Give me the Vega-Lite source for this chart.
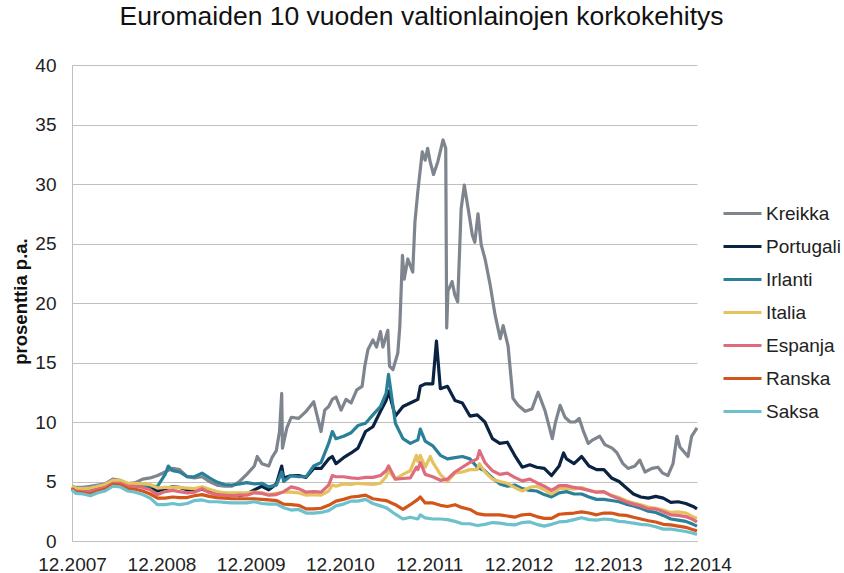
{
  "$schema": "https://vega.github.io/schema/vega-lite/v6.json",
  "width": 625,
  "height": 476,
  "autosize": {"type": "none"},
  "padding": {"left": 72, "top": 65, "right": 147, "bottom": 32},
  "background": "white",
  "config": {"view": {"stroke": null}, "font": "Liberation Sans"},
  "title": {"text": "Euromaiden 10 vuoden valtionlainojen korkokehitys", "font": "Liberation Sans", "fontSize": 26.5, "fontWeight": "normal", "color": "#111111", "anchor": "middle", "frame": "group", "dx": 37, "offset": 26},
  "data": {"values": [
    {"d":"2007-12-31","Kreikka":4.6,"Portugali":4.5,"Irlanti":4.4,"Italia":4.6,"Espanja":4.4,"Ranska":4.4,"Saksa":4.3},
    {"d":"2008-01-15","Kreikka":4.5,"Portugali":4.35,"Irlanti":4.25,"Italia":4.45,"Espanja":4.2,"Ranska":4.1,"Saksa":4.0},
    {"d":"2008-02-15","Kreikka":4.5,"Portugali":4.3,"Irlanti":4.3,"Italia":4.4,"Espanja":4.15,"Ranska":4.05,"Saksa":3.95},
    {"d":"2008-03-15","Kreikka":4.6,"Portugali":4.4,"Irlanti":4.4,"Italia":4.45,"Espanja":4.15,"Ranska":3.95,"Saksa":3.8},
    {"d":"2008-04-15","Kreikka":4.7,"Portugali":4.55,"Irlanti":4.55,"Italia":4.6,"Espanja":4.35,"Ranska":4.2,"Saksa":4.05},
    {"d":"2008-05-15","Kreikka":4.8,"Portugali":4.65,"Irlanti":4.65,"Italia":4.75,"Espanja":4.5,"Ranska":4.35,"Saksa":4.2},
    {"d":"2008-06-15","Kreikka":5.2,"Portugali":5.0,"Irlanti":4.95,"Italia":5.1,"Espanja":4.85,"Ranska":4.75,"Saksa":4.6},
    {"d":"2008-07-15","Kreikka":5.1,"Portugali":4.95,"Irlanti":4.95,"Italia":5.1,"Espanja":4.85,"Ranska":4.7,"Saksa":4.55},
    {"d":"2008-08-15","Kreikka":4.8,"Portugali":4.7,"Irlanti":4.7,"Italia":4.85,"Espanja":4.6,"Ranska":4.4,"Saksa":4.2},
    {"d":"2008-09-15","Kreikka":4.9,"Portugali":4.65,"Irlanti":4.75,"Italia":4.85,"Espanja":4.6,"Ranska":4.35,"Saksa":4.1},
    {"d":"2008-10-15","Kreikka":5.2,"Portugali":4.6,"Irlanti":4.7,"Italia":4.8,"Espanja":4.5,"Ranska":4.2,"Saksa":3.9},
    {"d":"2008-11-15","Kreikka":5.3,"Portugali":4.5,"Irlanti":4.6,"Italia":4.75,"Espanja":4.3,"Ranska":3.95,"Saksa":3.6},
    {"d":"2008-12-15","Kreikka":5.5,"Portugali":4.2,"Irlanti":4.6,"Italia":4.45,"Espanja":3.9,"Ranska":3.6,"Saksa":3.05},
    {"d":"2009-01-15","Kreikka":5.8,"Portugali":4.4,"Irlanti":5.6,"Italia":4.5,"Espanja":4.15,"Ranska":3.6,"Saksa":3.05},
    {"d":"2009-01-28","Irlanti":6.3},
    {"d":"2009-02-15","Kreikka":6.1,"Portugali":4.55,"Irlanti":5.9,"Italia":4.5,"Espanja":4.25,"Ranska":3.7,"Saksa":3.15},
    {"d":"2009-03-15","Kreikka":6.0,"Portugali":4.5,"Irlanti":5.8,"Italia":4.5,"Espanja":4.15,"Ranska":3.65,"Saksa":3.05},
    {"d":"2009-04-15","Kreikka":5.4,"Portugali":4.3,"Irlanti":5.4,"Italia":4.45,"Espanja":4.05,"Ranska":3.65,"Saksa":3.15},
    {"d":"2009-05-15","Kreikka":5.3,"Portugali":4.2,"Irlanti":5.4,"Italia":4.4,"Espanja":4.1,"Ranska":3.8,"Saksa":3.4},
    {"d":"2009-06-15","Kreikka":5.4,"Portugali":4.35,"Irlanti":5.7,"Italia":4.55,"Espanja":4.4,"Ranska":3.9,"Saksa":3.45},
    {"d":"2009-07-15","Kreikka":5.0,"Portugali":4.15,"Irlanti":5.3,"Italia":4.35,"Espanja":4.05,"Ranska":3.75,"Saksa":3.3},
    {"d":"2009-08-15","Kreikka":4.7,"Portugali":4.0,"Irlanti":4.95,"Italia":4.15,"Espanja":3.9,"Ranska":3.65,"Saksa":3.3},
    {"d":"2009-09-15","Kreikka":4.6,"Portugali":4.0,"Irlanti":4.75,"Italia":4.05,"Espanja":3.85,"Ranska":3.6,"Saksa":3.25},
    {"d":"2009-10-15","Kreikka":4.6,"Portugali":3.9,"Irlanti":4.7,"Italia":4.05,"Espanja":3.8,"Ranska":3.55,"Saksa":3.2},
    {"d":"2009-11-15","Kreikka":5.0,"Portugali":3.8,"Irlanti":4.8,"Italia":4.05,"Espanja":3.85,"Ranska":3.55,"Saksa":3.2},
    {"d":"2009-12-15","Kreikka":5.6,"Portugali":3.95,"Irlanti":4.9,"Italia":4.05,"Espanja":3.85,"Ranska":3.55,"Saksa":3.2},
    {"d":"2010-01-15","Portugali":4.3,"Irlanti":4.8,"Italia":4.1,"Espanja":4.05,"Ranska":3.55,"Saksa":3.3},
    {"d":"2010-02-15","Portugali":4.6,"Irlanti":4.85,"Italia":4.05,"Espanja":4.0,"Ranska":3.5,"Saksa":3.15},
    {"d":"2010-03-15","Portugali":4.3,"Irlanti":4.55,"Italia":3.9,"Espanja":3.85,"Ranska":3.45,"Saksa":3.1},
    {"d":"2010-04-15","Portugali":4.8,"Irlanti":4.7,"Italia":4.0,"Espanja":3.9,"Ranska":3.4,"Saksa":3.1},
    {"d":"2010-05-07","Portugali":6.3,"Irlanti":5.8},
    {"d":"2010-05-15","Portugali":5.3,"Irlanti":5.0,"Italia":4.1,"Espanja":4.15,"Ranska":3.1,"Saksa":2.8},
    {"d":"2010-06-15","Portugali":5.5,"Irlanti":5.5,"Italia":4.1,"Espanja":4.55,"Ranska":3.05,"Saksa":2.6},
    {"d":"2010-07-15","Portugali":5.5,"Irlanti":5.4,"Italia":4.05,"Espanja":4.4,"Ranska":3.0,"Saksa":2.65},
    {"d":"2010-08-15","Portugali":5.35,"Irlanti":5.4,"Italia":3.85,"Espanja":4.1,"Ranska":2.7,"Saksa":2.35},
    {"d":"2010-09-15","Portugali":6.1,"Irlanti":6.3,"Italia":3.9,"Espanja":4.15,"Ranska":2.7,"Saksa":2.35},
    {"d":"2010-10-15","Portugali":6.1,"Irlanti":6.6,"Italia":3.85,"Espanja":4.1,"Ranska":2.75,"Saksa":2.4},
    {"d":"2010-11-15","Portugali":6.9,"Irlanti":8.2,"Italia":4.2,"Espanja":4.7,"Ranska":3.0,"Saksa":2.55},
    {"d":"2010-11-30","Portugali":7.1,"Irlanti":9.2,"Italia":4.7,"Espanja":5.5},
    {"d":"2010-12-15","Portugali":6.5,"Irlanti":8.6,"Italia":4.6,"Espanja":5.4,"Ranska":3.35,"Saksa":2.95},
    {"d":"2011-01-15","Portugali":7.0,"Irlanti":8.8,"Italia":4.8,"Espanja":5.4,"Ranska":3.5,"Saksa":3.1},
    {"d":"2011-02-15","Portugali":7.4,"Irlanti":9.1,"Italia":4.75,"Espanja":5.3,"Ranska":3.7,"Saksa":3.35},
    {"d":"2011-03-15","Portugali":7.8,"Irlanti":9.7,"Italia":4.85,"Espanja":5.25,"Ranska":3.75,"Saksa":3.35},
    {"d":"2011-04-15","Portugali":9.2,"Irlanti":9.9,"Italia":4.8,"Espanja":5.35,"Ranska":3.85,"Saksa":3.5},
    {"d":"2011-05-15","Portugali":9.6,"Irlanti":10.6,"Italia":4.75,"Espanja":5.35,"Ranska":3.55,"Saksa":3.15},
    {"d":"2011-06-15","Portugali":10.9,"Irlanti":11.3,"Italia":4.85,"Espanja":5.5,"Ranska":3.45,"Saksa":2.95},
    {"d":"2011-07-08","Portugali":11.8,"Irlanti":12.4,"Italia":5.4,"Espanja":5.9,"Ranska":3.4,"Saksa":2.8},
    {"d":"2011-07-18","Portugali":12.6,"Irlanti":14.0,"Italia":5.9,"Espanja":6.3},
    {"d":"2011-08-15","Portugali":10.5,"Irlanti":9.9,"Italia":5.2,"Espanja":5.2,"Ranska":3.05,"Saksa":2.25},
    {"d":"2011-09-15","Portugali":11.3,"Irlanti":8.6,"Italia":5.6,"Espanja":5.25,"Ranska":2.65,"Saksa":1.85},
    {"d":"2011-10-15","Portugali":11.6,"Irlanti":8.2,"Italia":5.9,"Espanja":5.3,"Ranska":3.05,"Saksa":2.0},
    {"d":"2011-11-09","Italia":7.2,"Espanja":6.2},
    {"d":"2011-11-15","Portugali":11.9,"Irlanti":8.5,"Italia":6.7,"Espanja":6.0,"Ranska":3.5,"Saksa":1.85},
    {"d":"2011-11-25","Portugali":13.0,"Irlanti":9.4,"Italia":7.2,"Espanja":6.6,"Ranska":3.7,"Saksa":2.2},
    {"d":"2011-12-15","Portugali":13.2,"Irlanti":8.4,"Italia":6.2,"Espanja":5.6,"Ranska":3.2,"Saksa":1.95},
    {"d":"2012-01-05","Italia":7.1},
    {"d":"2012-01-15","Portugali":13.2,"Irlanti":8.0,"Italia":6.6,"Espanja":5.4,"Ranska":3.2,"Saksa":1.85},
    {"d":"2012-01-30","Portugali":16.8},
    {"d":"2012-02-15","Portugali":12.8,"Irlanti":7.2,"Italia":5.6,"Espanja":5.1,"Ranska":3.0,"Saksa":1.85},
    {"d":"2012-03-15","Portugali":13.0,"Irlanti":6.9,"Italia":5.0,"Espanja":5.2,"Ranska":2.9,"Saksa":1.8},
    {"d":"2012-04-15","Portugali":11.8,"Irlanti":7.0,"Italia":5.7,"Espanja":5.8,"Ranska":3.05,"Saksa":1.65},
    {"d":"2012-05-15","Portugali":11.6,"Irlanti":7.1,"Italia":5.8,"Espanja":6.2,"Ranska":2.8,"Saksa":1.45},
    {"d":"2012-06-15","Portugali":10.5,"Irlanti":6.9,"Italia":6.0,"Espanja":6.6,"Ranska":2.65,"Saksa":1.45},
    {"d":"2012-07-15","Portugali":10.6,"Irlanti":6.2,"Italia":6.0,"Espanja":6.9,"Ranska":2.3,"Saksa":1.3},
    {"d":"2012-07-24","Italia":6.5,"Espanja":7.6},
    {"d":"2012-08-15","Portugali":10.0,"Irlanti":5.9,"Italia":5.8,"Espanja":6.6,"Ranska":2.2,"Saksa":1.4},
    {"d":"2012-09-15","Portugali":8.6,"Irlanti":5.3,"Italia":5.2,"Espanja":5.9,"Ranska":2.2,"Saksa":1.55},
    {"d":"2012-10-15","Portugali":8.2,"Irlanti":4.8,"Italia":5.0,"Espanja":5.6,"Ranska":2.2,"Saksa":1.5},
    {"d":"2012-11-15","Portugali":8.3,"Irlanti":4.6,"Italia":4.85,"Espanja":5.7,"Ranska":2.1,"Saksa":1.4},
    {"d":"2012-12-15","Portugali":7.2,"Irlanti":4.7,"Italia":4.5,"Espanja":5.35,"Ranska":2.0,"Saksa":1.35},
    {"d":"2013-01-15","Portugali":6.2,"Irlanti":4.4,"Italia":4.2,"Espanja":5.05,"Ranska":2.2,"Saksa":1.55},
    {"d":"2013-02-15","Portugali":6.4,"Irlanti":4.25,"Italia":4.5,"Espanja":5.2,"Ranska":2.25,"Saksa":1.6},
    {"d":"2013-03-15","Portugali":6.2,"Irlanti":4.2,"Italia":4.6,"Espanja":4.9,"Ranska":2.05,"Saksa":1.4},
    {"d":"2013-04-15","Portugali":6.1,"Irlanti":3.9,"Italia":4.3,"Espanja":4.6,"Ranska":1.9,"Saksa":1.25},
    {"d":"2013-05-15","Portugali":5.5,"Irlanti":3.7,"Italia":3.95,"Espanja":4.25,"Ranska":1.9,"Saksa":1.4},
    {"d":"2013-06-15","Portugali":6.3,"Irlanti":4.05,"Italia":4.4,"Espanja":4.65,"Ranska":2.25,"Saksa":1.6},
    {"d":"2013-07-03","Portugali":7.4},
    {"d":"2013-07-15","Portugali":6.9,"Irlanti":4.15,"Italia":4.45,"Espanja":4.65,"Ranska":2.3,"Saksa":1.65},
    {"d":"2013-08-15","Portugali":6.5,"Irlanti":3.95,"Italia":4.35,"Espanja":4.5,"Ranska":2.35,"Saksa":1.8},
    {"d":"2013-09-15","Portugali":7.1,"Irlanti":3.95,"Italia":4.5,"Espanja":4.4,"Ranska":2.45,"Saksa":1.95},
    {"d":"2013-10-15","Portugali":6.3,"Irlanti":3.7,"Italia":4.25,"Espanja":4.25,"Ranska":2.35,"Saksa":1.8},
    {"d":"2013-11-15","Portugali":6.0,"Irlanti":3.5,"Italia":4.1,"Espanja":4.1,"Ranska":2.2,"Saksa":1.75},
    {"d":"2013-12-15","Portugali":6.0,"Irlanti":3.5,"Italia":4.1,"Espanja":4.15,"Ranska":2.35,"Saksa":1.85},
    {"d":"2014-01-15","Portugali":5.3,"Irlanti":3.4,"Italia":3.85,"Espanja":3.8,"Ranska":2.35,"Saksa":1.8},
    {"d":"2014-02-15","Portugali":5.0,"Irlanti":3.3,"Italia":3.65,"Espanja":3.55,"Ranska":2.2,"Saksa":1.65},
    {"d":"2014-03-15","Portugali":4.5,"Irlanti":3.1,"Italia":3.4,"Espanja":3.3,"Ranska":2.15,"Saksa":1.6},
    {"d":"2014-04-15","Portugali":3.95,"Irlanti":2.95,"Italia":3.2,"Espanja":3.1,"Ranska":2.0,"Saksa":1.5},
    {"d":"2014-05-15","Portugali":3.7,"Irlanti":2.75,"Italia":3.05,"Espanja":2.95,"Ranska":1.85,"Saksa":1.4},
    {"d":"2014-06-15","Portugali":3.6,"Irlanti":2.5,"Italia":2.85,"Espanja":2.7,"Ranska":1.7,"Saksa":1.35},
    {"d":"2014-07-15","Portugali":3.75,"Irlanti":2.4,"Italia":2.75,"Espanja":2.7,"Ranska":1.6,"Saksa":1.2},
    {"d":"2014-08-15","Portugali":3.6,"Irlanti":2.15,"Italia":2.6,"Espanja":2.45,"Ranska":1.4,"Saksa":1.0},
    {"d":"2014-09-15","Portugali":3.25,"Irlanti":1.85,"Italia":2.4,"Espanja":2.2,"Ranska":1.35,"Saksa":1.0},
    {"d":"2014-10-15","Portugali":3.3,"Irlanti":1.75,"Italia":2.45,"Espanja":2.15,"Ranska":1.25,"Saksa":0.9},
    {"d":"2014-11-15","Portugali":3.15,"Irlanti":1.65,"Italia":2.35,"Espanja":2.05,"Ranska":1.15,"Saksa":0.8},
    {"d":"2014-12-15","Portugali":2.9,"Irlanti":1.4,"Italia":2.05,"Espanja":1.8,"Ranska":0.95,"Saksa":0.65},
    {"d":"2014-12-31","Portugali":2.7,"Irlanti":1.25,"Italia":1.9,"Espanja":1.6,"Ranska":0.85,"Saksa":0.55},
    {"d":"2010-01-15","Kreikka":6.3},
    {"d":"2010-01-27","Kreikka":7.1},
    {"d":"2010-02-15","Kreikka":6.5},
    {"d":"2010-03-15","Kreikka":6.3},
    {"d":"2010-03-28","Kreikka":7.0},
    {"d":"2010-04-15","Kreikka":7.6},
    {"d":"2010-04-28","Kreikka":9.2},
    {"d":"2010-05-07","Kreikka":12.4},
    {"d":"2010-05-10","Kreikka":7.8},
    {"d":"2010-05-28","Kreikka":9.5},
    {"d":"2010-06-15","Kreikka":10.4},
    {"d":"2010-07-15","Kreikka":10.3},
    {"d":"2010-08-15","Kreikka":10.9},
    {"d":"2010-09-15","Kreikka":11.7},
    {"d":"2010-09-28","Kreikka":10.6},
    {"d":"2010-10-15","Kreikka":9.2},
    {"d":"2010-10-30","Kreikka":11.0},
    {"d":"2010-11-15","Kreikka":11.3},
    {"d":"2010-11-30","Kreikka":11.9},
    {"d":"2010-12-15","Kreikka":12.1},
    {"d":"2011-01-05","Kreikka":11.0},
    {"d":"2011-01-25","Kreikka":11.9},
    {"d":"2011-02-15","Kreikka":11.6},
    {"d":"2011-03-10","Kreikka":12.7},
    {"d":"2011-04-01","Kreikka":13.0},
    {"d":"2011-04-12","Kreikka":14.7},
    {"d":"2011-04-25","Kreikka":16.1},
    {"d":"2011-05-15","Kreikka":16.9},
    {"d":"2011-05-30","Kreikka":16.3},
    {"d":"2011-06-15","Kreikka":17.6},
    {"d":"2011-06-25","Kreikka":16.3},
    {"d":"2011-07-15","Kreikka":17.7},
    {"d":"2011-07-22","Kreikka":14.7},
    {"d":"2011-08-05","Kreikka":14.4},
    {"d":"2011-08-25","Kreikka":15.8},
    {"d":"2011-09-02","Kreikka":18.0},
    {"d":"2011-09-13","Kreikka":24.0},
    {"d":"2011-09-20","Kreikka":22.0},
    {"d":"2011-10-05","Kreikka":23.7},
    {"d":"2011-10-25","Kreikka":22.6},
    {"d":"2011-11-03","Kreikka":26.8},
    {"d":"2011-11-15","Kreikka":29.4},
    {"d":"2011-12-03","Kreikka":32.7},
    {"d":"2011-12-15","Kreikka":32.0},
    {"d":"2011-12-25","Kreikka":33.0},
    {"d":"2012-01-04","Kreikka":31.9},
    {"d":"2012-01-18","Kreikka":30.8},
    {"d":"2012-02-05","Kreikka":31.9},
    {"d":"2012-02-26","Kreikka":33.7},
    {"d":"2012-03-08","Kreikka":33.0},
    {"d":"2012-03-12","Kreikka":17.9},
    {"d":"2012-03-17","Kreikka":21.0},
    {"d":"2012-04-03","Kreikka":21.8},
    {"d":"2012-04-14","Kreikka":20.7},
    {"d":"2012-04-26","Kreikka":20.1},
    {"d":"2012-05-10","Kreikka":27.9},
    {"d":"2012-05-23","Kreikka":29.9},
    {"d":"2012-06-08","Kreikka":27.9},
    {"d":"2012-06-25","Kreikka":25.7},
    {"d":"2012-07-05","Kreikka":25.1},
    {"d":"2012-07-18","Kreikka":27.5},
    {"d":"2012-07-31","Kreikka":24.9},
    {"d":"2012-08-16","Kreikka":23.7},
    {"d":"2012-09-06","Kreikka":21.5},
    {"d":"2012-09-26","Kreikka":19.0},
    {"d":"2012-10-17","Kreikka":17.0},
    {"d":"2012-10-29","Kreikka":18.1},
    {"d":"2012-11-18","Kreikka":16.4},
    {"d":"2012-12-08","Kreikka":12.0},
    {"d":"2012-12-29","Kreikka":11.4},
    {"d":"2013-01-27","Kreikka":10.9},
    {"d":"2013-02-24","Kreikka":11.1},
    {"d":"2013-03-21","Kreikka":12.5},
    {"d":"2013-04-19","Kreikka":10.9},
    {"d":"2013-05-18","Kreikka":8.6},
    {"d":"2013-05-30","Kreikka":9.9},
    {"d":"2013-06-19","Kreikka":11.4},
    {"d":"2013-07-09","Kreikka":10.4},
    {"d":"2013-07-30","Kreikka":10.0},
    {"d":"2013-08-19","Kreikka":10.0},
    {"d":"2013-09-05","Kreikka":10.3},
    {"d":"2013-09-21","Kreikka":9.3},
    {"d":"2013-10-12","Kreikka":8.2},
    {"d":"2013-10-31","Kreikka":8.5},
    {"d":"2013-11-28","Kreikka":8.8},
    {"d":"2013-12-19","Kreikka":8.1},
    {"d":"2014-01-18","Kreikka":7.8},
    {"d":"2014-02-07","Kreikka":7.4},
    {"d":"2014-03-03","Kreikka":6.5},
    {"d":"2014-03-24","Kreikka":6.1},
    {"d":"2014-04-21","Kreikka":6.3},
    {"d":"2014-05-11","Kreikka":6.8},
    {"d":"2014-06-01","Kreikka":5.8},
    {"d":"2014-06-30","Kreikka":6.1},
    {"d":"2014-07-24","Kreikka":6.2},
    {"d":"2014-08-13","Kreikka":5.7},
    {"d":"2014-09-03","Kreikka":5.5},
    {"d":"2014-09-24","Kreikka":6.5},
    {"d":"2014-10-10","Kreikka":8.8},
    {"d":"2014-10-22","Kreikka":7.9},
    {"d":"2014-11-24","Kreikka":7.1},
    {"d":"2014-12-09","Kreikka":8.8},
    {"d":"2014-12-31","Kreikka":9.5}
  ]},
  "transform": [
    {"fold": ["Kreikka", "Portugali", "Irlanti", "Italia", "Espanja", "Ranska", "Saksa"], "as": ["maa", "arvo"]},
    {"filter": "isValid(datum.arvo)"}
  ],
  "mark": {"type": "line", "strokeWidth": 3.2, "strokeJoin": "round"},
  "encoding": {
    "x": {
      "field": "d", "type": "temporal",
      "scale": {"type": "utc", "domain": [{"year": 2007, "month": 12, "date": 31, "utc": true}, {"year": 2014, "month": 12, "date": 31, "utc": true}]},
      "axis": {
        "title": null,
        "values": [
          {"year": 2007, "month": 12, "date": 31, "utc": true},
          {"year": 2008, "month": 12, "date": 31, "utc": true},
          {"year": 2009, "month": 12, "date": 31, "utc": true},
          {"year": 2010, "month": 12, "date": 31, "utc": true},
          {"year": 2011, "month": 12, "date": 31, "utc": true},
          {"year": 2012, "month": 12, "date": 31, "utc": true},
          {"year": 2013, "month": 12, "date": 31, "utc": true},
          {"year": 2014, "month": 12, "date": 31, "utc": true}
        ],
        "labelExpr": "utcFormat(datum.value, '%m.%Y')",
        "grid": false, "ticks": false, "tickSize": 0,
        "domain": true, "domainColor": "#BFBFBF", "domainWidth": 1,
        "labelFont": "Liberation Sans", "labelFontSize": 19, "labelColor": "#222222",
        "labelPadding": 14, "labelOverlap": false, "labelBound": false, "labelFlush": false
      }
    },
    "y": {
      "field": "arvo", "type": "quantitative",
      "scale": {"domain": [0, 40], "nice": false, "zero": true},
      "axis": {
        "title": "prosenttia p.a.",
        "values": [0, 5, 10, 15, 20, 25, 30, 35, 40],
        "grid": true, "gridColor": "#BFBFBF", "gridWidth": 1,
        "ticks": false, "tickSize": 0,
        "domain": true, "domainColor": "#BFBFBF", "domainWidth": 1,
        "labelFont": "Liberation Sans", "labelFontSize": 19, "labelColor": "#222222", "labelPadding": 16,
        "titleFont": "Liberation Sans", "titleFontSize": 18.5, "titleFontWeight": "bold", "titleColor": "#111111",
        "titleAngle": -90, "titleX": -52, "titleY": 236, "titleAlign": "center", "titleBaseline": "middle"
      }
    },
    "color": {
      "field": "maa", "type": "nominal",
      "scale": {
        "domain": ["Kreikka", "Portugali", "Irlanti", "Italia", "Espanja", "Ranska", "Saksa"],
        "range": ["#7F858F", "#0B2343", "#2A8097", "#E6C25E", "#DF6C7C", "#D3551A", "#6CC1CD"]
      },
      "legend": {
        "title": null, "orient": "none", "legendX": 661, "legendY": 139, "direction": "vertical",
        "symbolType": "M-2.5,0L2.5,0", "symbolSize": 231, "symbolStrokeWidth": 3,
        "labelFont": "Liberation Sans", "labelFontSize": 19, "labelColor": "#222222",
        "labelOffset": 14, "rowPadding": 13, "padding": 0
      }
    }
  }
}
